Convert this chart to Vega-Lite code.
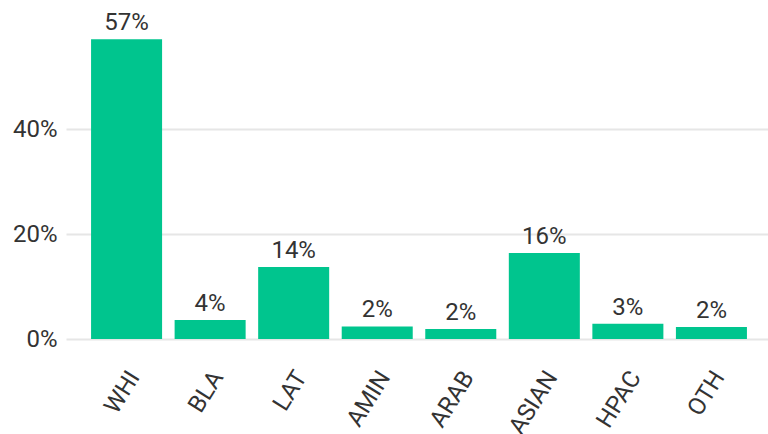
{
  "$schema": "https://vega.github.io/schema/vega-lite/v6.json",
  "autosize": {"type": "none"},
  "padding": {"left": 66, "top": 24, "right": 0, "bottom": 95},
  "width": 706,
  "height": 315,
  "background": "white",
  "config": {
    "view": {"stroke": null},
    "font": "Roboto",
    "axis": {"labelFont": "Roboto", "labelColor": "#333333", "labelFontSize": 24, "domain": false, "ticks": false, "grid": false}
  },
  "data": {
    "values": [
      {"group": "WHI", "share": 0.571},
      {"group": "BLA", "share": 0.036},
      {"group": "LAT", "share": 0.137},
      {"group": "AMIN", "share": 0.024},
      {"group": "ARAB", "share": 0.019},
      {"group": "ASIAN", "share": 0.164},
      {"group": "HPAC", "share": 0.029},
      {"group": "OTH", "share": 0.023}
    ]
  },
  "encoding": {
    "x": {
      "field": "group", "type": "nominal", "sort": null,
      "scale": {"paddingInner": 0.15, "paddingOuter": 0.3},
      "axis": {"title": null, "labelAngle": -58, "labelAlign": "right", "labelBaseline": "middle", "labelPadding": 34, "labelOffset": 8, "labelBound": false, "labelOverlap": false}
    },
    "y": {
      "field": "share", "type": "quantitative",
      "scale": {"domain": [0, 0.6], "nice": false},
      "axis": {"title": null, "values": [0, 0.2, 0.4], "format": ".0%", "grid": true, "gridColor": "#e6e6e6", "gridWidth": 2, "labelPadding": 9}
    }
  },
  "layer": [
    {"mark": {"type": "bar", "color": "#00C58E"}},
    {
      "mark": {"type": "text", "baseline": "bottom", "dy": -4, "fontSize": 24, "color": "#333333", "font": "Roboto"},
      "encoding": {"text": {"field": "share", "type": "quantitative", "format": ".0%"}}
    }
  ]
}
